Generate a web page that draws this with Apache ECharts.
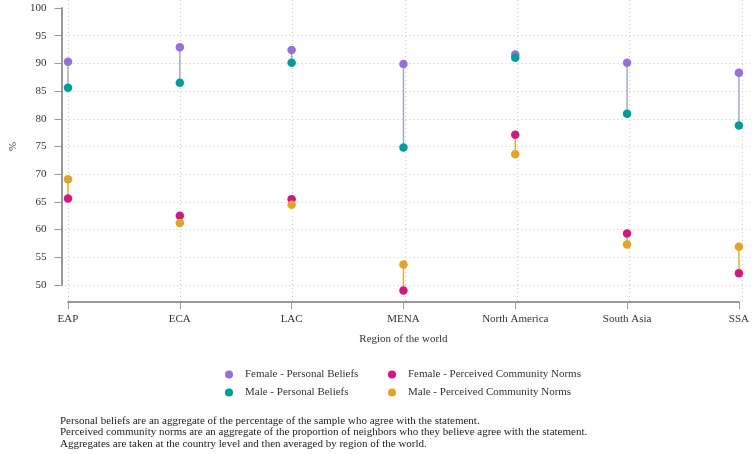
<!DOCTYPE html>
<html>
<head>
<meta charset="utf-8">
<script src="https://cdn.jsdelivr.net/npm/echarts@6/dist/echarts.min.js"></script>
<style>html,body{margin:0;padding:0;background:#fff;}#c{width:752px;height:454px;}</style>
</head>
<body>
<div id="c"></div>
<script>
const regions = ['EAP', 'ECA', 'LAC', 'MENA', 'North America', 'South Asia', 'SSA'];
const femalePersonal = [90.3, 92.9, 92.4, 89.9, 91.6, 90.1, 88.3];
const malePersonal = [85.6, 86.5, 90.1, 74.8, 91.0, 80.9, 78.8];
const femaleNorms = [65.6, 62.5, 65.5, 49.0, 77.1, 59.3, 52.1];
const maleNorms = [69.1, 61.2, 64.5, 53.7, 73.6, 57.3, 56.9];
const yTicks = {min: 50, max: 100, interval: 5};
const names = ['Female - Personal Beliefs', 'Male - Personal Beliefs', 'Female - Perceived Community Norms', 'Male - Perceived Community Norms'];
const footnote = [
  'Personal beliefs are an aggregate of the percentage of the sample who agree with the statement.',
  'Perceived community norms are an aggregate of the proportion of neighbors who they believe agree with the statement.',
  'Aggregates are taken at the country level and then averaged by region of the world.'
];

const colors = {fp: '#9370DB', mp: '#009E96', fn: '#D2177F', mn: '#E0A526', linkP: '#A2AEC0', linkN: '#E3AE3A'};
const FONT = 'Liberation Serif';
const chart = echarts.init(document.getElementById('c'));

function linkSeries(a, b, color) {
  return {
    type: 'custom', xAxisIndex: 0, yAxisIndex: 0, clip: false, z: 1, silent: true,
    data: regions.map((r, i) => [i, a[i], b[i]]),
    renderItem: function (params, api) {
      const p1 = api.coord([api.value(0), api.value(1)]);
      const p2 = api.coord([api.value(0), api.value(2)]);
      return {type: 'line', shape: {x1: p1[0], y1: p1[1], x2: p2[0], y2: p2[1]}, style: {stroke: color, lineWidth: 1.5}};
    }
  };
}
function dots(name, vals, color) {
  return {
    name: name, type: 'scatter', xAxisIndex: 0, yAxisIndex: 0, clip: false, z: 3,
    symbol: 'circle', symbolSize: 8.5, itemStyle: {color: color, opacity: 1},
    data: vals.map((v, i) => [i, v])
  };
}
function legend(name, left, top) {
  return {
    data: [name], left: left, top: top, orient: 'horizontal', icon: 'circle',
    itemWidth: 22, itemHeight: 8, itemGap: 0, selectedMode: false, padding: 0,
    textStyle: {fontFamily: FONT, fontSize: 11, color: '#333', padding: [0, 0, 0, 0]}
  };
}

chart.setOption({
  animation: false,
  backgroundColor: '#fff',
  title: {
    text: footnote.join('\n'), left: 60, top: 415, padding: 0,
    textStyle: {fontFamily: FONT, fontSize: 11, fontWeight: 'normal', color: '#222', lineHeight: 11.6}
  },
  legend: [
    legend(names[0], 225, 369),
    legend(names[2], 388, 369),
    legend(names[1], 225, 387),
    legend(names[3], 388, 387)
  ],
  grid: [
    {left: 68, right: 10, top: 8, bottom: 169},
    {left: 68, right: 10, top: 0, bottom: 152},
    {left: 57, right: 2, top: 8, bottom: 169}
  ],
  xAxis: [
    {
      gridIndex: 0, type: 'category', data: regions, boundaryGap: false, offset: 17,
      axisLine: {show: true, lineStyle: {color: '#999', width: 2}},
      axisTick: {show: true, length: 7, alignWithLabel: true, lineStyle: {color: '#999', width: 1}},
      axisLabel: {fontFamily: FONT, fontSize: 11, color: '#333', margin: 12, interval: 0},
      splitLine: {show: false},
      name: 'Region of the world', nameLocation: 'middle', nameGap: 32,
      nameTextStyle: {fontFamily: FONT, fontSize: 11, color: '#333'}
    },
    {
      gridIndex: 1, type: 'category', data: regions, boundaryGap: false,
      axisLine: {show: false}, axisTick: {show: false}, axisLabel: {show: false},
      splitLine: {show: true, interval: 0, lineStyle: {color: '#c8c8c8', type: [1, 3], width: 1}}
    },
    {gridIndex: 2, type: 'value', show: false}
  ],
  yAxis: [
    {gridIndex: 0, type: 'value', min: yTicks.min, max: yTicks.max, show: false},
    {gridIndex: 1, type: 'value', show: false},
    {
      gridIndex: 2, type: 'value', min: yTicks.min, max: yTicks.max, interval: yTicks.interval,
      axisLine: {show: true, lineStyle: {color: '#999', width: 2}},
      axisTick: {show: true, length: 7, lineStyle: {color: '#999', width: 1}},
      axisLabel: {fontFamily: FONT, fontSize: 11, color: '#333', margin: 15},
      splitLine: {show: true, showMaxLine: false, lineStyle: {color: '#c8c8c8', type: [1, 3], width: 1}},
      name: '%', nameLocation: 'middle', nameGap: 42, nameRotate: 90,
      nameTextStyle: {fontFamily: FONT, fontSize: 11, color: '#333'}
    }
  ],
  series: [
    linkSeries(femalePersonal, malePersonal, colors.linkP),
    linkSeries(femaleNorms, maleNorms, colors.linkN),
    dots(names[0], femalePersonal, colors.fp),
    dots(names[1], malePersonal, colors.mp),
    dots(names[2], femaleNorms, colors.fn),
    dots(names[3], maleNorms, colors.mn)
  ]
});
</script>
</body>
</html>
